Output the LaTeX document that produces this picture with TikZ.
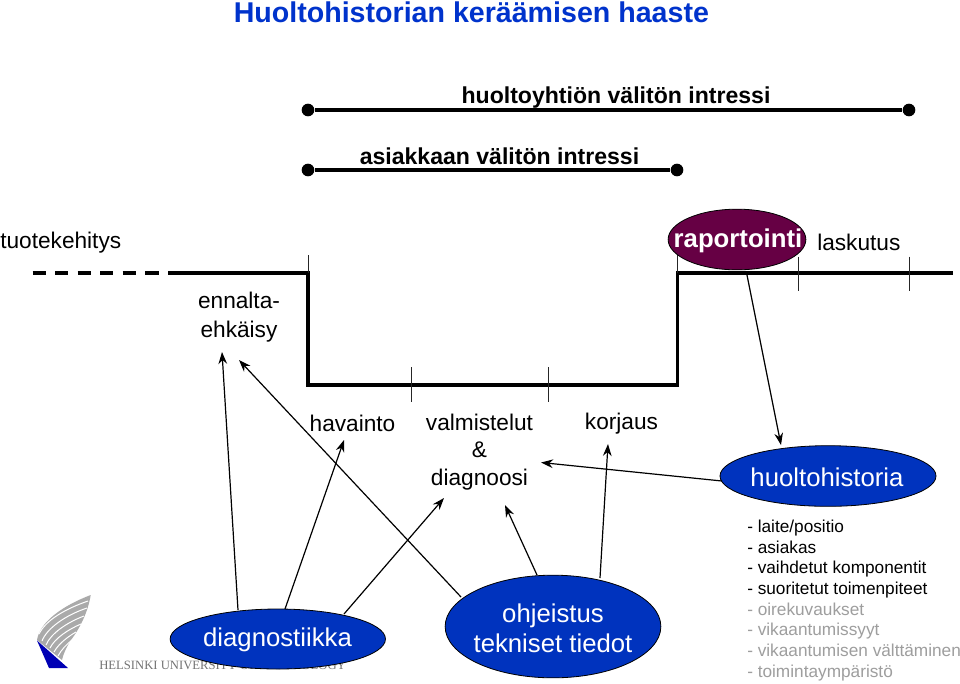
\documentclass[tikz,border=0pt]{standalone}
\usepackage{fontspec}
\setmainfont{Liberation Sans}
\newfontfamily\serifx{Liberation Serif}
\usetikzlibrary{shapes.geometric,arrows.meta}
\definecolor{titleblue}{RGB}{0,51,204}
\definecolor{ellblue}{RGB}{0,51,190}
\definecolor{plum}{RGB}{102,0,68}
\definecolor{logogray}{RGB}{170,170,170}
\definecolor{logoblue}{RGB}{0,0,180}
\newcommand{\tsize}[1]{\fontsize{#1}{#1}\selectfont}
\tikzset{
  x=0.75pt,y=-0.75pt,
  lbl/.style={inner sep=0,text=black,font=\tsize{17},align=center},
  boldlbl/.style={inner sep=0,text=black,font=\bfseries\tsize{17.3}},
  tick/.style={line width=0.6pt,draw=black!85},
  dotnode/.style={circle,fill=black,inner sep=0,minimum size=9.5pt},
  ell/.style={ellipse,draw=black,line width=0.6pt,inner sep=0},
  elltxt/.style={inner sep=0,text=white,align=center,font=\tsize{19.3}},
  arr/.style={line width=0.9pt,-{Stealth[length=9pt,width=6.5pt]}},
  stripe/.style={draw=white,line width=0.75pt}
}
\begin{document}
\begin{tikzpicture}
\useasboundingbox (0,0) rectangle (960,683);
\fill[white] (0,0) rectangle (960,683);
% title
\node[inner sep=0,text=titleblue,font=\bfseries\tsize{21.45},anchor=west] (title) at (233.5,12) {Huoltohistorian keräämisen haaste};
% interest bars
\node[boldlbl] (l1) at (616,98) {huoltoyhtiön välitön intressi};
\node[boldlbl] (l2) at (499.5,156) {asiakkaan välitön intressi};
\node[dotnode] (a1) at (308,110) {};
\node[dotnode] (a2) at (909,110) {};
\node[dotnode] (b1) at (308,170) {};
\node[dotnode] (b2) at (677,170) {};
\draw[line width=2.75pt] (a1) -- (a2);
\draw[line width=2.3pt] (b1) -- (b2);
% process line
\coordinate (d0) at (32.5,273);
\coordinate (d1) at (168,273);
\coordinate (p1) at (308,273);
\coordinate (p2) at (308,385);
\coordinate (p3) at (677.5,385);
\coordinate (p4) at (677.5,273);
\coordinate (p5) at (952.5,273);
\draw[line width=2.5pt,dash pattern=on 10pt off 6.9pt] (d0) -- (160,273);
\draw[line width=2.5pt,line join=miter] (d1) -- (p1) -- (p2) -- (p3) -- (p4) -- (p5);
% ticks
\draw[tick] (308,255) -- (308,273);
\draw[tick] (411,367) -- (411,402);
\draw[tick] (548,367) -- (548,402);
\draw[tick] (677,255) -- (677,273);
\draw[tick] (798,256.5) -- (798,291);
\draw[tick] (909,256.5) -- (909,291);
% labels
\node[lbl,anchor=west] (tk) at (0,243) {tuotekehitys};
\node[lbl,anchor=west] (lask) at (817,242) {laskutus};
\node[lbl] (enn) at (239,317) {ennalta-\\[5pt]ehkäisy};
\node[lbl] (hav) at (352.5,423) {havainto};
\node[lbl] (val) at (479.5,452) {valmistelut\\[3.4pt]\&\\[3.4pt]diagnoosi};
\node[lbl] (kor) at (621.5,424) {korjaus};
% logo
\fill[logogray] (37,640) .. controls (40,622) and (62,606) .. (90.7,595)
  .. controls (88,612) and (80,628) .. (71,640) .. controls (67,646) and (64,652) .. (62,660) -- cycle;
\draw[stripe] (39,634) .. controls (46,620) and (65,609) .. (88,601);
\draw[stripe] (42,641) .. controls (47,628) and (66,615) .. (87,608);
\draw[stripe] (46,645) .. controls (51,633) and (68,622) .. (84,616);
\draw[stripe] (50,648) .. controls (55,638) and (69,629) .. (81,624);
\draw[stripe] (54,652) .. controls (59,643) and (69,636) .. (76,632);
\draw[stripe] (58,656) .. controls (61,650) and (67,644) .. (72,640);
\fill[logoblue] (37,640.5) -- (68,668) -- (49,668) -- cycle;
\node[inner sep=0,text=black!55,font=\serifx\tsize{9.5},anchor=west] (hut) at (99,665.5) {HELSINKI UNIVERSITY OF TECHNOLOGY};
% ellipses
\node[ell,fill=plum,minimum width=103.3pt,minimum height=45.5pt] (rap) at (737,239.5) {};
\node[elltxt,font=\bfseries\tsize{19.3}] (rapt) at (738,241) {raportointi};
\node[ell,fill=ellblue,minimum width=162pt,minimum height=45.5pt] (hh) at (828,476) {};
\node[elltxt] (hht) at (827,477) {huoltohistoria};
\node[ell,fill=ellblue,minimum width=161.5pt,minimum height=45pt] (dg) at (277.8,639) {};
\node[elltxt] (dgt) at (277.5,640) {diagnostiikka};
\node[ell,fill=ellblue,minimum width=161.8pt,minimum height=77pt] (oh) at (553,626.5) {};
\node[elltxt] (oht) at (553,628) {ohjeistus\\[2.9pt]tekniset tiedot};
% connectors
\coordinate (e1) at (222,352);
\coordinate (e2) at (239,360);
\coordinate (e3) at (344,440);
\coordinate (e4) at (444,498);
\coordinate (e5) at (505,505);
\coordinate (e6) at (608,444);
\coordinate (e7) at (541,462.5);
\coordinate (e8) at (781,445);
\coordinate (s1) at (238,610);
\coordinate (s2) at (285,609);
\coordinate (s3) at (344,614);
\coordinate (s4) at (461,597);
\coordinate (s5) at (537,575);
\coordinate (s6) at (600,578);
\coordinate (s7) at (722,481);
\coordinate (s8) at (747,275);
\draw[arr] (s1) -- (e1);
\draw[arr] (s4) -- (e2);
\draw[arr] (s2) -- (e3);
\draw[arr] (s3) -- (e4);
\draw[arr] (s5) -- (e5);
\draw[arr] (s6) -- (e6);
\draw[arr] (s7) -- (e7);
\draw[arr] (s8) -- (e8);
% list
\node[inner sep=0,anchor=north west,align=left,font=\fontsize{12.93}{15.55}\selectfont,text=black] (lst) at (747,519.5) {%
- laite/positio\\
- asiakas\\
- vaihdetut komponentit\\
- suoritetut toimenpiteet\\
\textcolor{black!38}{- oirekuvaukset}\\
\textcolor{black!38}{- vikaantumissyyt}\\
\textcolor{black!38}{- vikaantumisen välttäminen}\\
\textcolor{black!38}{- toimintaympäristö}};
\end{tikzpicture}
\end{document}
